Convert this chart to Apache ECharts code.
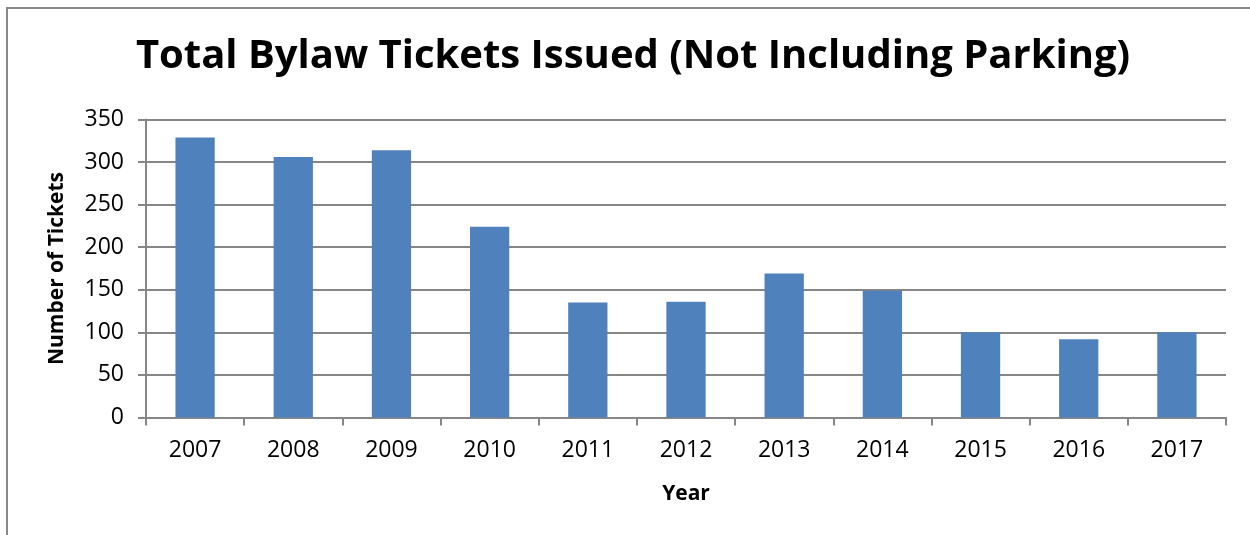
<!DOCTYPE html>
<html>
<head>
<meta charset="utf-8">
<script src="https://cdn.jsdelivr.net/npm/echarts@6/dist/echarts.min.js"></script>
<style>
  html, body { margin: 0; padding: 0; background: #fff; }
  #chart { width: 1250px; height: 535px; }
</style>
</head>
<body>
<div id="chart"></div>
<script>
const years = ['2007', '2008', '2009', '2010', '2011', '2012', '2013', '2014', '2015', '2016', '2017'];
const tickets = [329, 306, 314, 224, 135, 136, 169, 149, 100, 92, 100];
const yTicks = { min: 0, max: 350, interval: 50 };

const font = 'Open Sans';
const chart = echarts.init(document.getElementById('chart'));

const option = {
  backgroundColor: '#fff',
  textStyle: { fontFamily: font },
  title: {
    text: 'Total Bylaw Tickets Issued (Not Including Parking)',
    left: 628,
    top: 32,
    textAlign: 'center',
    textStyle: { fontFamily: font, fontSize: 40, fontWeight: 'bold', color: '#000' }
  },
  graphic: [{
    type: 'rect',
    shape: { x: 7, y: 8, width: 1300, height: 600 },
    style: { fill: 'none', stroke: '#888', lineWidth: 2 },
    silent: true
  }],
  grid: { left: 146, right: 24, top: 119.5, bottom: 117.5 },
  xAxis: {
    type: 'category',
    data: years,
    name: 'Year',
    nameLocation: 'middle',
    nameGap: 66,
    nameTextStyle: { fontFamily: font, fontSize: 21, fontWeight: 'bold', color: '#000' },
    axisLine: { lineStyle: { color: '#868686', width: 2 } },
    axisTick: { show: true, length: 8, lineStyle: { color: '#868686', width: 2 } },
    axisLabel: { fontSize: 23, color: '#000', margin: 21 }
  },
  yAxis: {
    type: 'value',
    min: yTicks.min,
    max: yTicks.max,
    interval: yTicks.interval,
    name: 'Number of Tickets',
    nameLocation: 'middle',
    nameGap: 78,
    nameRotate: 90,
    nameTextStyle: { fontFamily: font, fontSize: 21, fontWeight: 'bold', color: '#000' },
    axisLine: { show: true, lineStyle: { color: '#868686', width: 2 } },
    axisTick: { show: true, length: 8, lineStyle: { color: '#868686', width: 2 } },
    axisLabel: { fontSize: 23, color: '#000', margin: 22 },
    splitLine: { lineStyle: { color: '#868686', width: 2 } }
  },
  series: [{
    type: 'bar',
    data: tickets,
    barWidth: '40%',
    itemStyle: { color: '#4F81BD' },
    animation: false
  }]
};

chart.setOption(option);
</script>
</body>
</html>
